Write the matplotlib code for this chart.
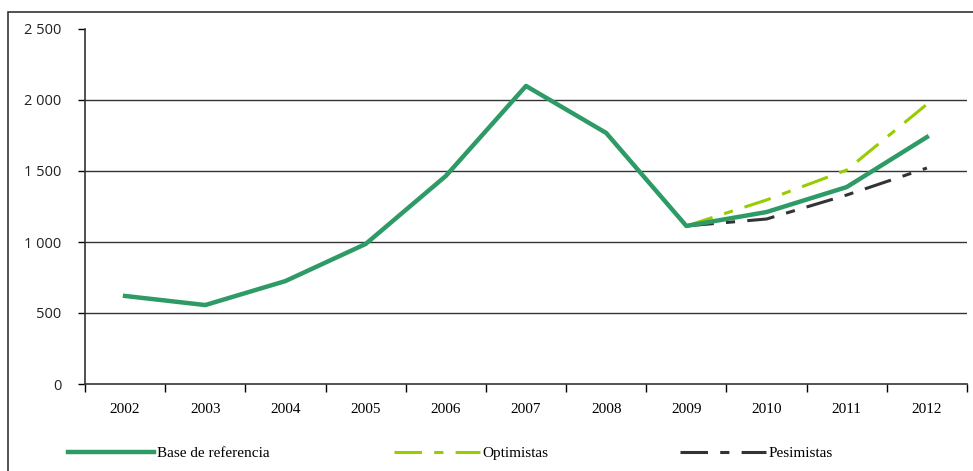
import matplotlib.pyplot as plt
import numpy as np
from matplotlib.patches import Rectangle

years = ["2002", "2003", "2004", "2005", "2006", "2007", "2008", "2009", "2010", "2011", "2012"]
base = [620, 556, 725, 986, 1465, 2099, 1768, 1113, 1211, 1387, 1739]
scen_years = ["2009", "2010", "2011", "2012"]
optimistas = [1113, 1296, 1507, 1970]
pesimistas = [1113, 1162, 1331, 1521]
yticks = [0, 500, 1000, 1500, 2000, 2500]

W, H = 973, 471
fig = plt.figure(figsize=(W / 100, H / 100), dpi=100)
ax = fig.add_axes([85 / W, 1 - 384 / H, (967 - 85) / W, (384 - 29) / H])

x = np.arange(len(years))
xs = np.array([years.index(y) for y in scen_years])

l_opt, = ax.plot(xs, optimistas, color="#99CC00", lw=2.2, dashes=(9, 4, 3, 4),
                 label="Optimistas", zorder=3)
l_pes, = ax.plot(xs, pesimistas, color="#333333", lw=2.2, dashes=(9, 4, 3, 4),
                 label="Pesimistas", zorder=3)
l_base, = ax.plot(x, base, color="#2E9A66", lw=3.2, label="Base de referencia", zorder=4)

ax.set_xlim(-0.5, len(years) - 0.5)
ax.set_ylim(0, 2500)
for v in yticks[1:-1]:
    ax.axhline(v, color="#333333", lw=1.0, zorder=1)

ax.set_yticks(yticks)
ax.set_yticklabels([f"{v:,}".replace(",", " ") for v in yticks],
                   fontfamily="Open Sans", fontsize=10.5, color="#222222")
ax.set_xticks(x)
ax.set_xticklabels(years, fontfamily="Liberation Serif", fontsize=11)
ax.set_xticks(np.arange(len(years) + 1) - 0.5, minor=True)
ax.tick_params(axis="x", which="major", length=0, pad=14)
ax.tick_params(axis="x", which="minor", length=6, direction="out", width=1.0)
ax.tick_params(axis="y", length=5, direction="out", width=1.0, pad=12)
for s in ("top", "right"):
    ax.spines[s].set_visible(False)
for s in ("left", "bottom"):
    ax.spines[s].set_color("#333333")
    ax.spines[s].set_linewidth(1.2)

# outer frame
fig.patches.append(Rectangle((8 / W, -0.1), 1.2, 1 - 12 / H + 0.1,
                             transform=fig.transFigure, fill=False,
                             edgecolor="#333333", lw=1.2))

# legend entries placed separately like the original
for handle, x0 in [(l_base, 62), (l_opt, 388), (l_pes, 674)]:
    fig.legend([handle], [handle.get_label()], loc="center left",
               bbox_to_anchor=(x0 / W, 1 - 453 / H), frameon=False,
               handlelength=5.6, handletextpad=0.2, borderaxespad=0,
               prop={"family": "Liberation Serif", "size": 11})

fig.savefig("out.png", dpi=100)
